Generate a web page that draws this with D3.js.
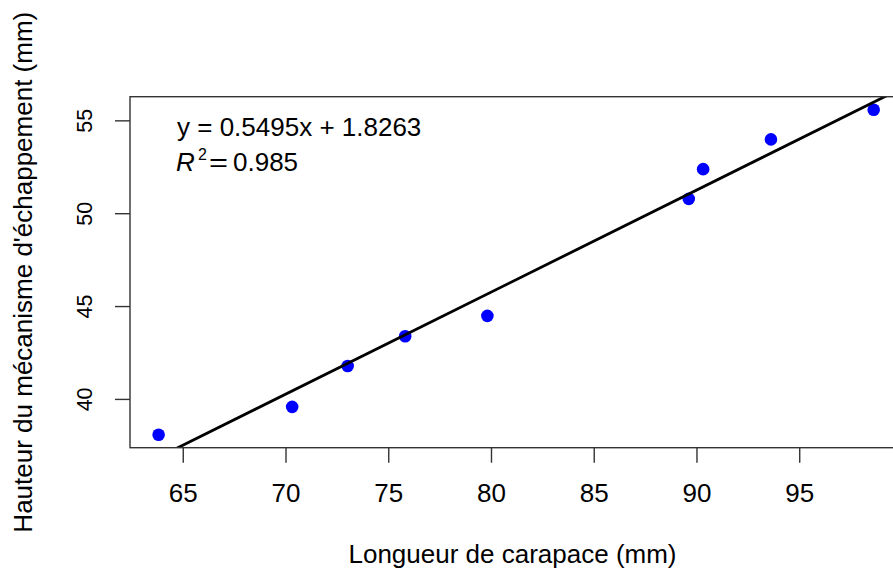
<!DOCTYPE html>
<html>
<head>
<meta charset="utf-8">
<script src="https://cdn.jsdelivr.net/npm/d3@7"></script>
<style>
  body { margin: 0; background: #fff; }
  text { font-family: "Liberation Sans", Arial, sans-serif; fill: #000; }
</style>
</head>
<body>
<div id="chart"></div>
<script>
// donnees
const longueur = [63.8, 70.3, 73.0, 75.8, 79.8, 89.6, 90.3, 93.6, 98.6];
const hauteur = [38.1, 39.6, 41.8, 43.4, 44.5, 50.8, 52.4, 54.0, 55.6];
const xTicks = [65, 70, 75, 80, 85, 90, 95];
const yTicks = [40, 45, 50, 55];
const pente = 0.5495, intercept = 1.8263, r2 = 0.985;

const width = 893, height = 569;
const mLeft = 130, mTop = 96.7, mBottom = 447.7, mRight = 902.3;

const svg = d3.select("#chart").append("svg")
  .attr("width", width)
  .attr("height", height);

svg.append("rect").attr("width", width).attr("height", height).attr("fill", "#fff");

// domaines etendus de 4% comme R
const ext = (v) => {
  const [a, b] = d3.extent(v);
  const d = (b - a) * 0.04;
  return [a - d, b + d];
};

const x = d3.scaleLinear().domain(ext(longueur)).range([mLeft, mRight]);
const y = d3.scaleLinear().domain(ext(hauteur)).range([mBottom, mTop]);

const data = longueur.map((d, i) => ({ x: d, y: hauteur[i] }));

// clip de la zone du graphique
svg.append("clipPath").attr("id", "zone")
  .append("rect")
  .attr("x", mLeft).attr("y", mTop)
  .attr("width", mRight - mLeft).attr("height", mBottom - mTop);

//============ points ============
svg.selectAll(".pt")
  .data(data)
  .join("circle")
  .attr("class", "pt")
  .attr("cx", (d) => x(d.x))
  .attr("cy", (d) => y(d.y))
  .attr("r", 6.3)
  .attr("fill", "#0000ff");

//============ droite de regression ============
const xd = x.domain();
svg.append("line")
  .attr("clip-path", "url(#zone)")
  .attr("x1", x(xd[0])).attr("y1", y(pente * xd[0] + intercept))
  .attr("x2", x(xd[1])).attr("y2", y(pente * xd[1] + intercept))
  .attr("stroke", "#000")
  .attr("stroke-width", 2.8);

//============ cadre ============
svg.append("rect")
  .attr("x", mLeft).attr("y", mTop)
  .attr("width", mRight - mLeft).attr("height", mBottom - mTop)
  .attr("fill", "none")
  .attr("stroke", "#333")
  .attr("stroke-width", 1.4);

//============ axe X ============
const gx = svg.append("g");
gx.selectAll("line")
  .data(xTicks)
  .join("line")
  .attr("x1", (d) => x(d)).attr("x2", (d) => x(d))
  .attr("y1", mBottom).attr("y2", mBottom + 15)
  .attr("stroke", "#333")
  .attr("stroke-width", 1.4);
gx.selectAll("text")
  .data(xTicks)
  .join("text")
  .attr("x", (d) => x(d))
  .attr("y", 501.5)
  .attr("text-anchor", "middle")
  .style("font-size", "26px")
  .text((d) => d);

//============ axe Y ============
const gy = svg.append("g");
gy.selectAll("line")
  .data(yTicks)
  .join("line")
  .attr("x1", mLeft - 15).attr("x2", mLeft)
  .attr("y1", (d) => y(d)).attr("y2", (d) => y(d))
  .attr("stroke", "#333")
  .attr("stroke-width", 1.4);
gy.selectAll("text")
  .data(yTicks)
  .join("text")
  .attr("transform", (d) => `translate(91.5, ${y(d)}) rotate(-90)`)
  .attr("text-anchor", "middle")
  .style("font-size", "21.5px")
  .text((d) => d);

//============ titres ============
svg.append("text")
  .attr("x", 512.5)
  .attr("y", 563)
  .attr("text-anchor", "middle")
  .style("font-size", "26px")
  .text("Longueur de carapace (mm)");

svg.append("text")
  .attr("transform", `translate(32, ${(mTop + mBottom) / 2}) rotate(-90)`)
  .attr("text-anchor", "middle")
  .style("font-size", "26px")
  .text("Hauteur du mécanisme d'échappement (mm)");

//============ equation ============
svg.append("text")
  .attr("x", 177)
  .attr("y", 136)
  .style("font-size", "26px")
  .text(`y = ${pente}x + ${intercept}`);

// R^2 = ... (morceaux separes comme le plotmath de R)
svg.append("text")
  .attr("x", 176)
  .attr("y", 171)
  .style("font-size", "26px")
  .style("font-style", "italic")
  .text("R");
svg.append("text")
  .attr("x", 198)
  .attr("y", 159.5)
  .style("font-size", "16px")
  .text("2");
svg.append("text")
  .attr("x", 209)
  .attr("y", 171)
  .style("font-size", "26px")
  .attr("textLength", 19)
  .attr("lengthAdjust", "spacingAndGlyphs")
  .text("=");
svg.append("text")
  .attr("x", 233)
  .attr("y", 171)
  .style("font-size", "26px")
  .text(r2);
</script>
</body>
</html>
